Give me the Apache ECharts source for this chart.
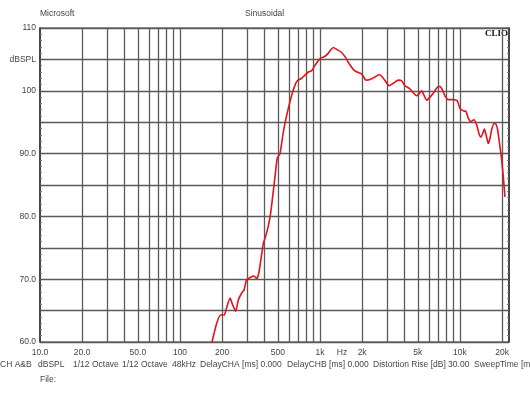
<!DOCTYPE html>
<html lang="en">
<head>
<meta charset="UTF-8">
<title>CLIO response</title>
<script type="text/javascript" src="https://cdn.jsdelivr.net/npm/echarts@6.0.0/dist/echarts.min.js"></script>
</head>
<body style="margin: 0; background: #fff">
<div id="container" style="width: 530px; height: 398px"></div>
<script type="text/javascript">

    // measured response, Hz / dBSPL
    var freqs = [160, 170, 183, 195, 207, 215, 228, 236, 250, 261, 276, 287, 299, 320, 338, 353, 365, 383, 394, 411,
        427, 444, 459, 477, 496, 518, 541, 562, 594, 628, 663, 689, 740, 781, 826, 873, 906, 957, 1012, 1086,
        1148, 1192, 1245, 1316, 1428, 1534, 1638, 1749, 1878, 1987, 2132, 2277, 2471, 2653, 2833, 3127, 3342, 3630, 3831, 4047,
        4345, 4645, 4900, 5125, 5325, 5560, 5780, 6105, 6450, 6810, 7115, 7395, 7810, 8260, 8960, 9570, 10000, 10570, 11050, 11480,
        11920, 12590, 13150, 13750, 14130, 14530, 14930, 15350, 15940, 16380, 16840, 17500, 18070, 18570, 19310, 19850, 20400, 20960];
    var spl = [57.8, 60.2, 63.0, 64.3, 64.3, 65.4, 67.0, 66.1, 64.9, 66.7, 67.8, 68.3, 69.9, 70.3, 70.5, 70.1, 70.9, 73.9, 75.7, 77.0,
        78.4, 80.5, 83.1, 86.3, 89.3, 90.0, 92.7, 94.8, 97.2, 99.3, 100.9, 101.6, 102.0, 102.5, 103.0, 103.2, 103.8, 104.6, 105.2, 105.5,
        106.0, 106.5, 106.9, 106.6, 106.1, 105.2, 104.1, 103.3, 102.9, 102.7, 101.7, 101.8, 102.2, 102.6, 102.0, 100.8, 101.2, 101.7, 101.6, 100.8,
        100.4, 99.7, 99.2, 99.6, 100.0, 99.2, 98.5, 99.0, 99.6, 100.4, 100.7, 100.4, 99.2, 98.6, 98.6, 98.4, 97.2, 96.8, 96.7, 95.6,
        95.1, 95.4, 94.6, 93.0, 92.6, 93.2, 93.9, 93.0, 91.6, 92.4, 93.8, 94.8, 94.7, 93.8, 91.1, 89.0, 86.3, 83.1];

    // vertical grid (1..9 per decade)
    var gridFreqs = [20, 30, 40, 50, 60, 70, 80, 90, 100, 200, 300, 400, 500, 600, 700, 800, 900, 1000,
        2000, 3000, 4000, 5000, 6000, 7000, 8000, 9000, 10000, 20000];

    // x labels ("Hz" sits between 1k and 2k)
    var xLabelValues = [10, 20, 50, 100, 200, 500, 1000, 1436, 2000, 5000, 10000, 20000];
    var xLabelTexts = ['10.0', '20.0', '50.0', '100', '200', '500', '1k', 'Hz', '2k', '5k', '10k', '20k'];

    // y labels
    var yLabelValues = [60, 70, 80, 90, 100, 105, 110];
    var yLabelTexts = ['60.0', '70.0', '80.0', '90.0', '100', 'dBSPL', '110'];

    var headerTexts = ['Microsoft', 'Sinusoidal'];
    var footerTexts = ['CH A&B', 'dBSPL', '1/12 Octave', '1/12 Octave', '48kHz', 'DelayCHA [ms] 0.000',
        'DelayCHB [ms] 0.000', 'Distortion Rise [dB] 30.00', 'SweepTime [ms] 0.000'];

    var textColor = '#444';
    var font = 'Arial, "Liberation Sans", sans-serif';

    var dom = document.getElementById('container');
    var myChart = echarts.init(dom, null, {renderer: 'canvas'});

    var lineData = [];
    for (var i = 0; i < freqs.length; i++) {
        lineData.push([freqs[i], spl[i]]);
    }

    var gridMarks = gridFreqs.map(function (f) {
        return {xAxis: f};
    });

    function txt(left, top, s) {
        return {
            type: 'text',
            left: left,
            top: top,
            style: {text: s, fill: textColor, font: '8.5px ' + font}
        };
    }

    var footerLeft = [0, 38, 73, 122, 172, 200, 287, 373, 474];
    var graphics = [
        txt(40, 9, headerTexts[0]),
        txt(245, 9, headerTexts[1]),
        txt(40, 375, 'File:'),
        {
            type: 'text',
            right: 22,
            top: 29,
            style: {text: 'CLIO', fill: '#111', font: 'bold 9px "Liberation Serif", "DejaVu Serif", serif'}
        }
    ];
    footerTexts.forEach(function (s, i) {
        graphics.push(txt(footerLeft[i], 360, s));
    });

    var yAxisBase = {
        type: 'value',
        min: 60,
        max: 110,
        interval: 5,
        axisLine: {show: true, lineStyle: {color: '#333', width: 1.5}},
        axisTick: {show: true, inside: true, length: 4, lineStyle: {color: '#555'}},
        minorTick: {show: true, splitNumber: 5, length: 2, lineStyle: {color: '#777'}},
        splitLine: {show: false}
    };

    var option = {
        backgroundColor: '#ffffff',
        animation: false,
        grid: {
            left: 40,
            right: 21,
            top: 28,
            bottom: 56,
            show: true,
            borderColor: '#333',
            borderWidth: 1.2
        },
        xAxis: {
            type: 'log',
            logBase: 10,
            min: 10,
            max: 22400,
            axisLine: {show: false},
            axisTick: {show: false},
            splitLine: {show: false},
            axisLabel: {
                customValues: xLabelValues,
                color: textColor,
                fontSize: 8.5,
                fontFamily: font,
                margin: 6,
                formatter: function (v) {
                    for (var j = 0; j < xLabelValues.length; j++) {
                        if (Math.abs(xLabelValues[j] - v) / v < 0.01) return xLabelTexts[j];
                    }
                    return '';
                }
            }
        },
        yAxis: [
            echarts.util.merge({
                position: 'left',
                splitLine: {show: true, lineStyle: {color: '#5a5a5a', width: 1.3}},
                axisLabel: {
                    color: textColor,
                    fontSize: 8.5,
                    fontFamily: font,
                    margin: 4,
                    showMinLabel: true,
                    showMaxLabel: true,
                    formatter: function (v) {
                        var j = yLabelValues.indexOf(Math.round(v));
                        return j >= 0 ? yLabelTexts[j] : '';
                    }
                }
            }, yAxisBase, false),
            echarts.util.merge({
                position: 'right',
                axisLabel: {show: false}
            }, yAxisBase, false)
        ],
        graphic: graphics,
        series: [
            {
                name: 'grid',
                type: 'line',
                data: [],
                silent: true,
                markLine: {
                    silent: true,
                    symbol: 'none',
                    label: {show: false},
                    lineStyle: {color: '#5a5a5a', width: 1.3, type: 'solid'},
                    emphasis: {disabled: true},
                    animation: false,
                    data: gridMarks
                }
            },
            {
                name: 'SPL',
                type: 'line',
                data: lineData,
                showSymbol: false,
                smooth: 0.2,
                clip: true,
                lineStyle: {color: '#e3121b', width: 1.6},
                z: 5
            }
        ]
    };

    myChart.setOption(option);

</script>
</body>
</html>
